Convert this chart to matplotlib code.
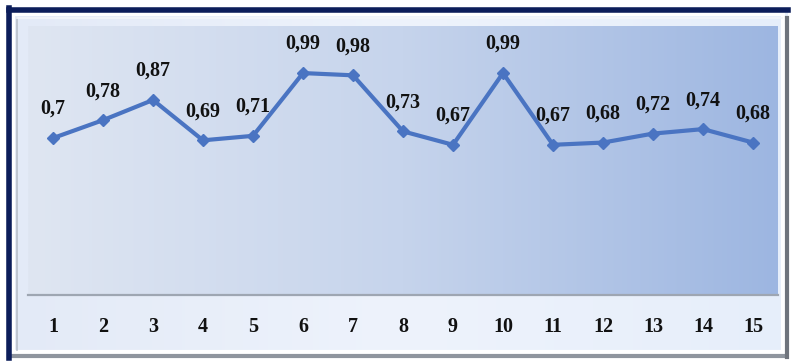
import numpy as np
import matplotlib.pyplot as plt
from matplotlib.patches import Rectangle
from matplotlib.colors import LinearSegmentedColormap

periods = list(range(1, 16))
values = [0.70, 0.78, 0.87, 0.69, 0.71, 0.99, 0.98, 0.73, 0.67, 0.99,
          0.67, 0.68, 0.72, 0.74, 0.68]
labels = ['0,7', '0,78', '0,87', '0,69', '0,71', '0,99', '0,98', '0,73', '0,67', '0,99',
          '0,67', '0,68', '0,72', '0,74', '0,68']

W, H = 791, 364
fig = plt.figure(figsize=(W / 100, H / 100), dpi=100)
fig.patch.set_facecolor('white')

# background layer in pixel coordinates
bg = fig.add_axes([0, 0, 1, 1], zorder=0)
bg.set_xlim(0, W)
bg.set_ylim(H, 0)
bg.axis('off')

outer_cmap = LinearSegmentedColormap.from_list('outer', ['#e3eaf7', '#eef3fc', '#e6eefa'])
grad = np.linspace(0, 1, 256).reshape(1, -1)
bg.imshow(grad, cmap=outer_cmap, extent=(9, 788, 357, 10), aspect='auto', zorder=1)

# bevel frame
bg.add_patch(Rectangle((13, 14), 770, 338, fill=False, ec='white', lw=3, zorder=2))
bg.plot([17, 17], [18, 350], color='#b8bfca', lw=1.2, zorder=2)
bg.plot([17, 782], [18, 18], color='#f4f6fa', lw=1.2, zorder=2)
bg.plot([9, 786], [356, 356], color='#8f959e', lw=3, zorder=3)
bg.plot([787, 787], [18, 357], color='#6f747c', lw=3, zorder=3)
bg.plot([8.5, 788], [9.5, 9.5], color='#0c1d5a', lw=4, zorder=4)
bg.plot([8.5, 8.5], [8, 358], color='#0c1d5a', lw=4, zorder=4)

# plot area
x0, x1, y0, y1 = 28, 778, 26, 295
ax = fig.add_axes([x0 / W, 1 - y1 / H, (x1 - x0) / W, (y1 - y0) / H], zorder=1)
ax.patch.set_alpha(0)
ax.set_xlim(0.5, 15.5)
ax.set_ylim(0, 1.2)

plot_cmap = LinearSegmentedColormap.from_list('plot', ['#dfe6f2', '#c6d4ec', '#9db6e1'])
ax.imshow(grad, cmap=plot_cmap, extent=(0.5, 15.5, 0, 1.2), aspect='auto', zorder=0)

ax.plot(periods, values, color='#4a74c2', lw=3, marker='D', ms=6.5,
        mec='#4a74c2', mfc='#4a74c2', zorder=3)

font = dict(family='Liberation Serif', weight='bold', size=14.5, color='#111111')
for x, v, t in zip(periods, values, labels):
    ax.annotate(t, (x, v), xytext=(0, 19), textcoords='offset pixels',
                ha='center', va='bottom', **font)

for s in ['top', 'right', 'left']:
    ax.spines[s].set_visible(False)
ax.spines['bottom'].set_color('#9ea6b2')
ax.spines['bottom'].set_linewidth(1.6)
ax.set_yticks([])
ax.set_xticks(periods)
ax.set_xticklabels([str(p) for p in periods], fontdict=font)
ax.tick_params(axis='x', length=0, pad=16)

fig.savefig('out.png', dpi=100)
